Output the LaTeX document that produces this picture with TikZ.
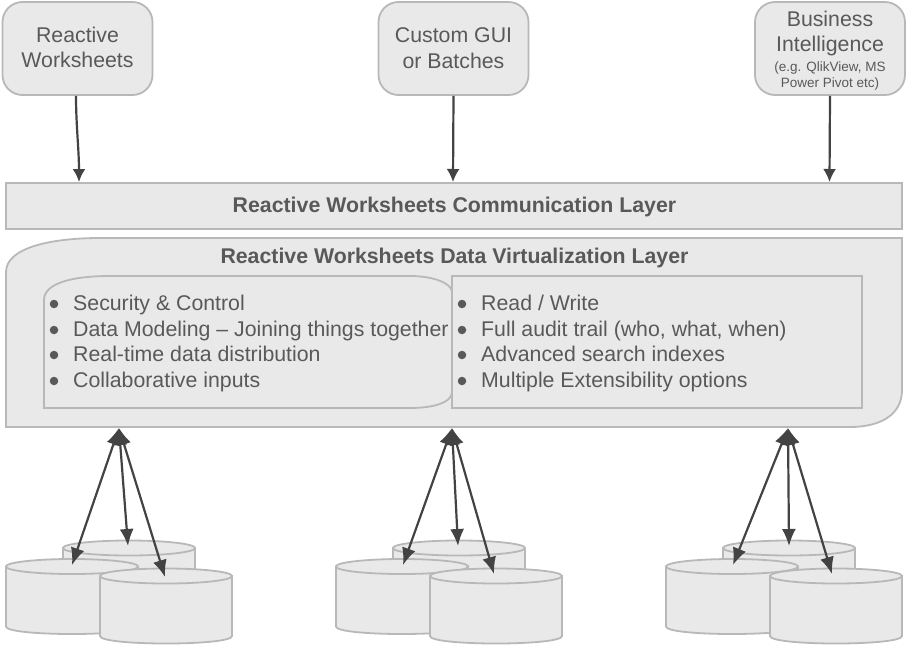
\documentclass[tikz,border=0pt]{standalone}
\usepackage{fontspec}
\setmainfont{Liberation Sans}
\usetikzlibrary{arrows.meta}
\definecolor{boxfill}{HTML}{E9E9E9}
\definecolor{boxline}{HTML}{B8B8B8}
\definecolor{ink}{HTML}{595959}
\definecolor{arrowink}{HTML}{434343}
\tikzset{
  every node/.style={text=ink,font=\fontsize{21.3}{26}\selectfont,inner sep=0pt},
  surface/.style={draw=boxline,fill=boxfill,line width=1.8pt},
  topbox/.style={surface,rounded corners=20pt,minimum width=150pt,minimum height=93pt,align=center},
  layerbox/.style={surface,minimum width=896pt,minimum height=46pt},
  layertitle/.style={font=\fontsize{21.3}{26}\selectfont\bfseries},
  bullets/.style={anchor=north west,align=left,font=\fontsize{21.3}{25.6}\selectfont},
  dot/.style={fill=ink,circle,minimum size=8.5pt},
  flow/.style={draw=arrowink,line width=2.2pt,-{Latex[length=13pt,width=13pt]}},
  biflow/.style={draw=arrowink,line width=2.2pt,{Latex[length=17pt,width=14pt]}-{Latex[length=17pt,width=14pt]}}
}
\newcommand{\database}[2]{%
  \draw[surface] (#1,#2) -- ++(0,60) .. controls +(0,10) and +(0,10) .. ++(132,0) -- ++(0,-60) -- cycle;
  \draw[surface] (#1+66,#2) ellipse [x radius=66pt,y radius=7.5pt];}
\begin{document}
\begin{tikzpicture}[x=1pt,y=-1pt]
\useasboundingbox (0,0) rectangle (908,646);
% top boxes
\node[topbox] (rw) at (77.5,48.5) {};
\node[align=center] (rwt) at (77.5,47.5) {Reactive\\[-0.5pt]Worksheets};
\node[topbox] (gui) at (453.5,48.5) {Custom GUI\\or Batches};
\node[topbox] (bi) at (830,48.5) {};
\node[align=center] (bit) at (830,50.5) {Business\\[-0.5pt]Intelligence\\[-6.5pt]{\fontsize{13.5}{26}\selectfont (e.g. QlikView, MS}\\[-10pt]{\fontsize{13.5}{26}\selectfont Power Pivot etc)}};
% communication layer
\node[layerbox] (comm) at (454,206) {};
\node[layertitle] (commt) at (454.5,207) {Reactive Worksheets Communication Layer};
% data layer
\draw[surface] (6,427) -- (6,272) .. controls (6,248) and (50,238) .. (100,238) -- (902,238) -- (902,390) .. controls (902,415) and (880,427) .. (850,427) -- cycle;
\node[layertitle] (dvt) at (454.5,257.5) {Reactive Worksheets Data Virtualization Layer};
\draw[surface] (452,276) rectangle (862,408);
\draw[surface] (44,408) -- (44,300) .. controls (44,284) and (70,276) .. (110,276) -- (410,276) .. controls (435,276) and (452,284) .. (452,292) -- (452,392) .. controls (452,402) and (435,408) .. (410,408) -- cycle;
\node[bullets] (ll) at (73,295) {Security \& Control\\Data Modeling – Joining things together\\Real-time data distribution\\Collaborative inputs};
\node[bullets] (rl) at (481,295) {Read / Write\\Full audit trail (who, what, when)\\Advanced search indexes\\Multiple Extensibility options};
\foreach \bx in {54,462}
  \foreach \by in {304,330,355,381}
    \node[dot] (d\bx-\by) at (\bx,\by) {};
% databases
\database{63}{548}
\database{6}{566.5}
\database{100}{576}
\database{393}{548}
\database{336}{566.5}
\database{430}{576}
\database{723}{548}
\database{666}{566.5}
\database{770}{576}
% anchors
\coordinate (c1t) at (79,182);
\coordinate (c2t) at (453,182);
\coordinate (c3t) at (829.5,182);
\coordinate (ga) at (119,428);
\coordinate (gb) at (452,428);
\coordinate (gc) at (788,428);
\coordinate (a1e) at (128,546);
\coordinate (a2e) at (72,565);
\coordinate (a3e) at (165,577);
\coordinate (b1e) at (458,546);
\coordinate (b2e) at (403,565);
\coordinate (b3e) at (494,574);
\coordinate (c1e) at (789,546);
\coordinate (c2e) at (733,565);
\coordinate (c3e) at (832,574);
% connectors
\draw[flow] (rw.south) ++(-1.5,0) .. controls (76,125) and (79,150) .. (c1t);
\draw[flow] (gui.south) -- (c2t);
\draw[flow] (bi.south) -- (c3t);
\foreach \g/\x/\y/\z in {ga/a1e/a2e/a3e,gb/b1e/b2e/b3e,gc/c1e/c2e/c3e}{
  \draw[biflow] (\g) -- (\x);
  \draw[biflow] (\g) -- (\y);
  \draw[biflow] (\g) -- (\z);
}
\end{tikzpicture}
\end{document}
